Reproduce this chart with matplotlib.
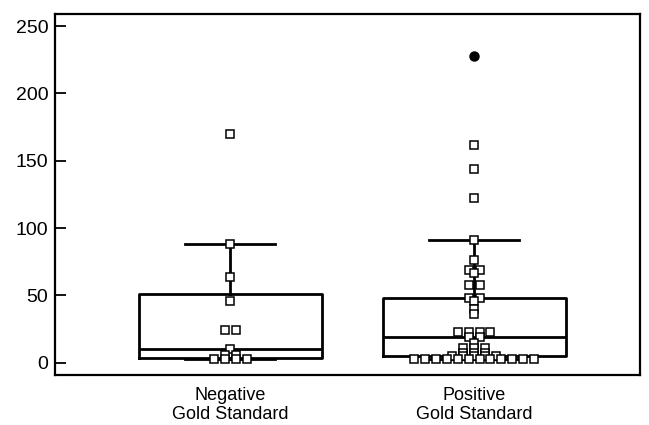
import numpy as np
import matplotlib
matplotlib.use('Agg')
from matplotlib import pyplot as plt

plt.rcParams['font.family'] = ['Liberation Sans', 'DejaVu Sans']

groups = ['Negative\nGold Standard', 'Positive\nGold Standard']
# box summary
q1 = [3.7, 4.7]
med = [10, 19]
q3 = [51, 48]
whislo = [3, 3]
whishi = [88, 91]

neg_vals = [170, 88, 64, 46, 24, 24, 10, 6, 6, 3, 3, 3, 3]
pos_vals = [162, 144, 122, 91, 76, 69, 69, 67, 58, 58, 48, 48, 46, 40, 36,
            23, 23, 23, 23, 19, 19, 15, 11, 11, 11, 7, 7, 7, 5, 5, 5, 5, 5,
            3, 3, 3, 3, 3, 3, 3, 3, 3, 3, 3, 3]
pos_far = [228]

fig = plt.figure(figsize=(6.49, 4.25), dpi=100)
ax = fig.add_axes([0.085, 0.118, 0.901, 0.849])

stats = []
for i in range(2):
    stats.append(dict(med=med[i], q1=q1[i], q3=q3[i], whislo=whislo[i],
                      whishi=whishi[i], fliers=[]))
ax.bxp(stats, positions=[1, 2], widths=0.75, showfliers=False,
       boxprops=dict(color='black', lw=2),
       medianprops=dict(color='black', lw=2),
       whiskerprops=dict(color='black', lw=2),
       capprops=dict(color='black', lw=2), capwidths=0.37)

step = 0.045
def spread(vals, center):
    xs, ys = [], []
    for v in sorted(set(vals), reverse=True):
        n = vals.count(v)
        for k in range(n):
            xs.append(center + (k - (n - 1) / 2) * step)
            ys.append(v)
    return xs, ys

for vals, c in [(neg_vals, 1), (pos_vals, 2)]:
    xs, ys = spread(vals, c)
    ax.plot(xs, ys, 's', ms=5.5, mfc='white', mec='black', mew=1.1, zorder=3)
ax.plot([2] * len(pos_far), pos_far, 'o', ms=6.5, color='black', zorder=3)

ax.set_xlim(0.283, 2.68)
ax.set_ylim(-9, 259)
ax.set_yticks([0, 50, 100, 150, 200, 250])
ax.set_xticks([1, 2])
ax.set_xticklabels(groups, fontsize=13, linespacing=1.12)
ax.tick_params(axis='y', direction='in', length=8, width=1.3, labelsize=14, pad=5)
ax.tick_params(axis='x', length=0, pad=9)
for s in ax.spines.values():
    s.set_linewidth(1.6)

plt.savefig('out.png', dpi=100)
